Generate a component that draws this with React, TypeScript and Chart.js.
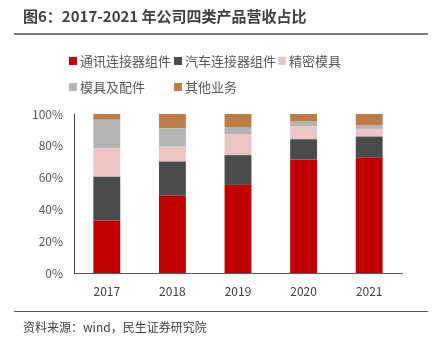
import React, { useEffect, useRef } from "react";
import { Chart, registerables } from "chart.js";

Chart.register(...registerables);

const categories = ["2017", "2018", "2019", "2020", "2021"];
const seriesNames = ["通讯连接器组件", "汽车连接器组件", "精密模具", "模具及配件", "其他业务"];
const commConnector = [33.0, 48.7, 55.4, 71.3, 72.6];
const autoConnector = [27.5, 21.4, 18.7, 12.8, 13.2];
const precisionMold = [18.0, 9.4, 13.3, 8.0, 4.8];
const moldParts = [17.9, 11.5, 4.4, 3.1, 2.5];
const otherBiz = [3.6, 9.0, 8.2, 4.8, 6.9];
const seriesColors = ["#C00000", "#4A4B4D", "#EDC4C4", "#B4B4B4", "#BD7B47"];
const yTicks = [0, 20, 40, 60, 80, 100];

const FONT = '"Noto Sans CJK SC", "Noto Sans", sans-serif';

export default function App() {
  const ref = useRef<HTMLCanvasElement | null>(null);

  useEffect(() => {
    if (!ref.current) return;
    const values = [commConnector, autoConnector, precisionMold, moldParts, otherBiz];
    const chart = new Chart(ref.current, {
      type: "bar",
      data: {
        labels: categories,
        datasets: seriesNames.map((name, i) => ({
          label: name,
          data: values[i],
          backgroundColor: seriesColors[i],
          borderColor: "rgba(255,255,255,0.6)",
          borderWidth: 0,
          categoryPercentage: 1,
          barPercentage: 0.41,
        })),
      },
      options: {
        animation: false,
        responsive: false,
        maintainAspectRatio: false,
        layout: { padding: { left: 0, right: 37, top: 114, bottom: 0 } },
        plugins: { legend: { display: false }, tooltip: { enabled: false }, title: { display: false } },
        scales: {
          x: {
            stacked: true,
            grid: { display: false, drawTicks: false },
            border: { display: true, color: "#595959", width: 1 },
            ticks: { color: "#404040", font: { family: FONT, size: 12 }, padding: 11 },
            afterFit: (s: any) => { s.height = 65; },
          },
          y: {
            stacked: true,
            min: 0,
            max: 100,
            afterBuildTicks: (s: any) => { s.ticks = yTicks.map((v) => ({ value: v })); },
            grid: { display: false, drawTicks: false },
            border: { display: true, color: "#404040", width: 1 },
            ticks: {
              color: "#595959",
              font: { family: FONT, size: 12 },
              padding: 11,
              callback: (v: any) => v + "%",
            },
            afterFit: (s: any) => { s.width = 74; },
          },
        },
      },
    });
    return () => chart.destroy();
  }, []);

  const legendItem = (i: number, left: number, top: number) => (
    <div
      key={i}
      style={{
        position: "absolute",
        left,
        top,
        display: "flex",
        alignItems: "center",
        fontFamily: FONT,
        fontSize: 13,
        color: "#595959",
        whiteSpace: "nowrap",
        lineHeight: "16px",
      }}
    >
      <span style={{ display: "inline-block", width: 8, height: 8, background: seriesColors[i], marginRight: 3 }} />
      <span>{seriesNames[i]}</span>
    </div>
  );

  return (
    <div style={{ position: "fixed", left: 0, top: 0, width: 439, height: 338, background: "#fff", overflow: "hidden" }}>
      <canvas ref={ref} width={439} height={338} style={{ position: "absolute", left: 0, top: 0, width: 439, height: 338 }} />
      <div
        style={{
          position: "absolute",
          left: 23,
          top: 6,
          fontFamily: FONT,
          fontWeight: 700,
          fontSize: 15,
          color: "#404040",
          lineHeight: "20px",
          whiteSpace: "nowrap",
        }}
      >
        图6：2017-2021 年公司四类产品营收占比
      </div>
      <div style={{ position: "absolute", left: 14, top: 33, width: 414, height: 2, background: "#7F7F7F" }} />
      {legendItem(0, 69, 53)}
      {legendItem(1, 174, 53)}
      {legendItem(2, 278, 53)}
      {legendItem(3, 69, 79)}
      {legendItem(4, 174, 79)}
      <div style={{ position: "absolute", left: 14, top: 311, width: 414, height: 1, background: "#595959" }} />
      <div
        style={{
          position: "absolute",
          left: 23,
          top: 319,
          fontFamily: FONT,
          fontSize: 12,
          color: "#404040",
          lineHeight: "16px",
          whiteSpace: "nowrap",
        }}
      >
        资料来源：wind，民生证券研究院
      </div>
    </div>
  );
}
